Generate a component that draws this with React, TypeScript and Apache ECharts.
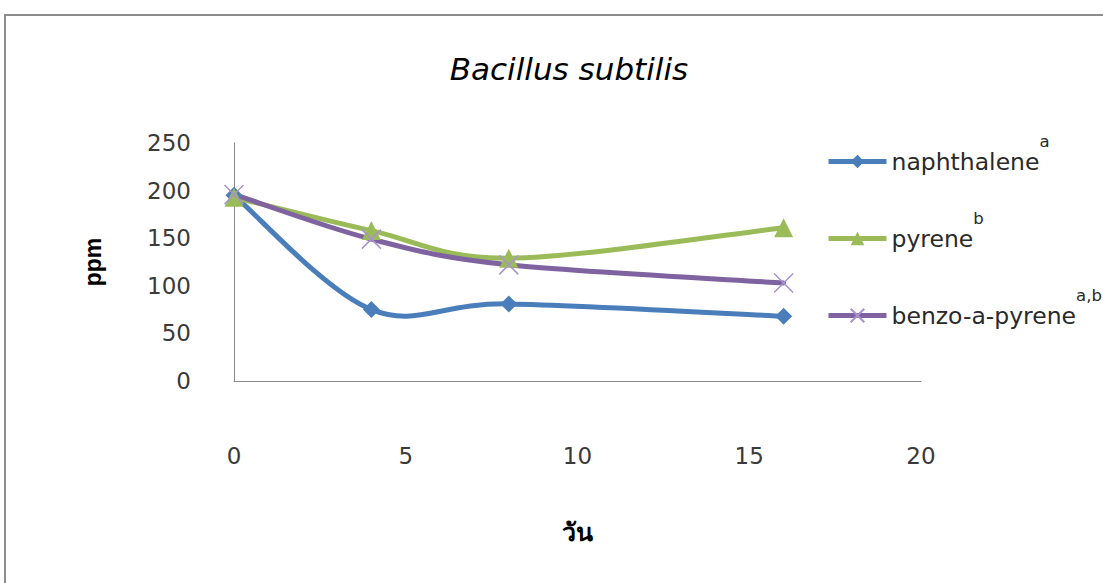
import React, { useEffect, useRef } from "react";
import * as echarts from "echarts";

// Sampling days and measured concentrations (ppm)
const days = [0, 4, 8, 16];
const naphthalene = [195, 75, 81, 68];
const pyrene = [193, 158, 129, 161];
const benzoAPyrene = [196, 149, 122, 103];

const seriesNames = ["naphthalene", "pyrene", "benzo-a-pyrene"];
const superscripts = ["a", "b", "a,b"];
const seriesValues = [naphthalene, pyrene, benzoAPyrene];
const lineColors = ["#4a7ebb", "#9bbb59", "#7f63a1"];
const xTicks = { min: 0, max: 20, interval: 5 };
const yTicks = { min: 0, max: 250, interval: 50 };

const SANS = "'DejaVu Sans', 'Liberation Sans', sans-serif";
const ARIAL = "'Liberation Sans', Arial, sans-serif";

const toPairs = (ys: number[]) => days.map((d, i) => [d, ys[i]]);

// Cardinal (Catmull-Rom) spline through the projected points, drawn once per series
const makeCurveRenderer = (values: number[], color: string) => (params: any, api: any) => {
  if (params.dataIndex !== 0) return null;
  const pts = values.map((v, i) => api.coord([days[i], v]));
  const n = pts.length;
  let d = `M${pts[0][0]},${pts[0][1]}`;
  for (let i = 0; i < n - 1; i++) {
    const p0 = pts[Math.max(i - 1, 0)];
    const p1 = pts[i];
    const p2 = pts[i + 1];
    const p3 = pts[Math.min(i + 2, n - 1)];
    const c1x = p1[0] + (p2[0] - p0[0]) / 6;
    const c1y = p1[1] + (p2[1] - p0[1]) / 6;
    const c2x = p2[0] - (p3[0] - p1[0]) / 6;
    const c2y = p2[1] - (p3[1] - p1[1]) / 6;
    d += ` C${c1x},${c1y} ${c2x},${c2y} ${p2[0]},${p2[1]}`;
  }
  return {
    type: "path",
    shape: { pathData: d },
    style: { fill: "none", stroke: color, lineWidth: 5, lineJoin: "round", lineCap: "round" },
  };
};

export default function App() {
  const ref = useRef<HTMLDivElement>(null);

  useEffect(() => {
    if (!ref.current) return;
    const chart = echarts.init(ref.current, undefined, { renderer: "svg" });

    const crossPath = "path://M0,0L10,10M10,0L0,10";
    const symbols = ["diamond", "triangle", crossPath];
    const symbolSizes = [17, 19, 19];
    const itemStyles = [
      { color: lineColors[0] },
      { color: lineColors[1] },
      { color: "none", borderColor: "#a893cc", borderWidth: 1.5 },
    ];

    const curves = seriesValues.map((vals, i) => ({
      name: seriesNames[i] + "-curve",
      type: "custom",
      data: toPairs(vals),
      encode: { x: 0, y: 1 },
      renderItem: makeCurveRenderer(vals, lineColors[i]),
      silent: true,
      z: 2,
    }));

    const markers = seriesValues.map((vals, i) => ({
      name: seriesNames[i],
      type: "line",
      data: toPairs(vals),
      symbol: symbols[i],
      symbolSize: symbolSizes[i],
      lineStyle: { color: lineColors[i], width: 5, opacity: 0 },
      itemStyle: itemStyles[i],
      z: 3,
    }));

    chart.setOption({
      animation: false,
      backgroundColor: "#ffffff",
      title: {
        text: "Bacillus subtilis",
        left: 564,
        textAlign: "center",
        top: 48,
        textStyle: {
          fontFamily: SANS,
          fontStyle: "italic",
          fontWeight: "normal",
          fontSize: 31,
          color: "#000000",
        },
      },
      graphic: [
        {
          type: "rect",
          shape: { x: 5, y: 15, width: 1200, height: 700 },
          style: { fill: "none", stroke: "#8c8c8c", lineWidth: 2 },
          silent: true,
        },
      ],
      legend: {
        orient: "vertical",
        left: 821,
        top: 128,
        itemWidth: 58,
        itemHeight: 17,
        itemGap: 20,
        data: seriesNames.map((name, i) => ({
          name,
          lineStyle: { color: lineColors[i], width: 5, opacity: 1 },
        })),
        formatter: (name: string) => {
          const i = seriesNames.indexOf(name);
          return `{m|${name}}{s|${superscripts[i]}}`;
        },
        textStyle: {
          fontFamily: SANS,
          color: "#2a2a2a",
          rich: {
            m: { fontFamily: SANS, fontSize: 23.5, lineHeight: 24, color: "#2a2a2a" },
            s: {
              fontFamily: SANS,
              fontSize: 16.5,
              lineHeight: 17,
              color: "#2a2a2a",
              padding: [0, 0, 40, 0],
            },
          },
        },
      },
      grid: { left: 234, right: 182, top: 143, bottom: 202, containLabel: false },
      xAxis: {
        type: "value",
        min: xTicks.min,
        max: xTicks.max,
        interval: xTicks.interval,
        name: "วัน",
        nameLocation: "middle",
        nameGap: 138,
        nameTextStyle: { fontFamily: ARIAL, fontWeight: "bold", fontSize: 25, color: "#000" },
        axisLine: { show: true, lineStyle: { color: "#8a8a8a", width: 1 } },
        axisTick: { show: false },
        splitLine: { show: false },
        axisLabel: { fontFamily: SANS, fontSize: 23, color: "#3a3a3a", margin: 63 },
      },
      yAxis: {
        type: "value",
        min: yTicks.min,
        max: yTicks.max,
        interval: yTicks.interval,
        name: "ppm",
        nameLocation: "middle",
        nameGap: 130,
        nameRotate: 90,
        nameTextStyle: { fontFamily: ARIAL, fontWeight: "bold", fontSize: 23, color: "#000" },
        axisLine: { show: true, lineStyle: { color: "#8a8a8a", width: 1 } },
        axisTick: { show: false },
        splitLine: { show: false },
        axisLabel: { fontFamily: SANS, fontSize: 23, color: "#3a3a3a", margin: 43 },
      },
      series: [...curves, ...markers],
    });

    return () => chart.dispose();
  }, []);

  return (
    <div
      ref={ref}
      style={{ position: "fixed", left: 0, top: 0, width: 1103, height: 583 }}
    />
  );
}
